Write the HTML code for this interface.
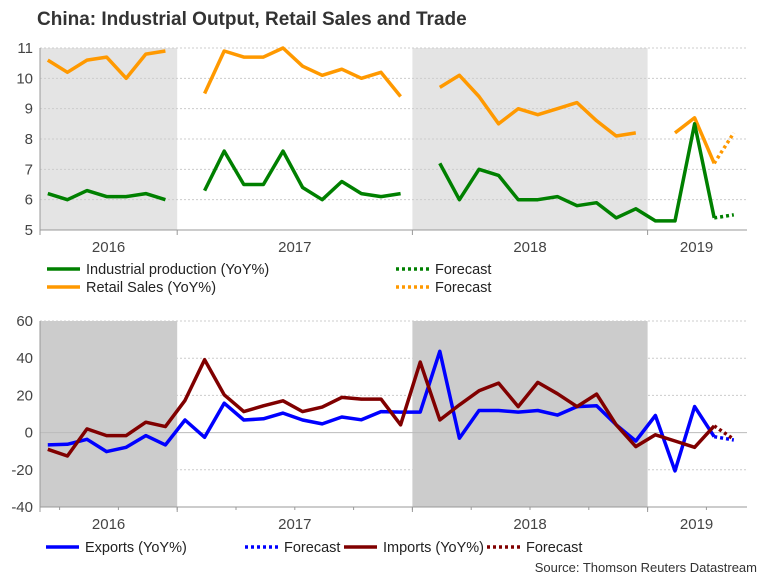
<!DOCTYPE html>
<html><head><meta charset="utf-8"><style>
body{margin:0;background:#fff;width:768px;height:576px;overflow:hidden;font-family:"Liberation Sans",Arial,sans-serif}
svg text{font-family:"Liberation Sans",Arial,sans-serif}
</style></head><body>
<svg id="c" width="768" height="576" xmlns="http://www.w3.org/2000/svg">
<text x="37" y="25" font-size="19" font-weight="bold" fill="#333">China: Industrial Output, Retail Sales and Trade</text>
<text x="757" y="572" font-size="13" fill="#333" text-anchor="end">Source: Thomson Reuters Datastream</text>
</svg>
<script>
// month index 0 = Jun 2016
const years=["2016","2017","2018","2019"];
const yearStart=[0,7,19,31];
const yearEnd=[7,19,31,36];
const shadeYears=[0,2];
const topTicks=[5,6,7,8,9,10,11];
const botTicks=[-40,-20,0,20,40,60];
const ipVals=[6.2,6.0,6.3,6.1,6.1,6.2,6.0,null,6.3,7.6,6.5,6.5,7.6,6.4,6.0,6.6,6.2,6.1,6.2,null,7.2,6.0,7.0,6.8,6.0,6.0,6.1,5.8,5.9,5.4,5.7,5.3,5.3,8.5,5.4,null];
const ipFc=[null,null,null,null,null,null,null,null,null,null,null,null,null,null,null,null,null,null,null,null,null,null,null,null,null,null,null,null,null,null,null,null,null,null,5.4,5.5];
const rsVals=[10.6,10.2,10.6,10.7,10.0,10.8,10.9,null,9.5,10.9,10.7,10.7,11.0,10.4,10.1,10.3,10.0,10.2,9.4,null,9.7,10.1,9.4,8.5,9.0,8.8,9.0,9.2,8.6,8.1,8.2,null,8.2,8.7,7.2,null];
const rsFc=[null,null,null,null,null,null,null,null,null,null,null,null,null,null,null,null,null,null,null,null,null,null,null,null,null,null,null,null,null,null,null,null,null,null,7.2,8.2];
const exVals=[-6.6,-6.3,-3.6,-10.2,-7.9,-1.6,-6.6,6.8,-2.5,15.8,6.8,7.4,10.5,6.8,4.7,8.4,6.9,11.3,11.0,11.0,43.7,-3.0,11.9,11.9,11.0,11.9,9.4,14.0,14.4,4.2,-4.5,9.2,-20.6,14.0,-2.2,null];
const exFc=[null,null,null,null,null,null,null,null,null,null,null,null,null,null,null,null,null,null,null,null,null,null,null,null,null,null,null,null,null,null,null,null,null,null,-2.2,-4.0];
const imVals=[-9.0,-12.6,2.0,-1.6,-1.6,5.6,3.2,17.3,39.2,20.3,11.3,14.4,17.1,11.3,13.7,18.9,18.0,18.0,4.2,37.9,6.8,14.9,22.5,26.6,14.0,27.0,20.9,14.0,20.7,4.2,-7.5,-1.2,-4.5,-7.9,3.6,null];
const imFc=[null,null,null,null,null,null,null,null,null,null,null,null,null,null,null,null,null,null,null,null,null,null,null,null,null,null,null,null,null,null,null,null,null,null,3.6,-3.6];

const svg=document.getElementById('c');const NS='http://www.w3.org/2000/svg';
function mk(t,a,p){const e=document.createElementNS(NS,t);for(const k in a)e.setAttribute(k,a[k]);(p||svg).appendChild(e);return e;}
const X0=40,MW=19.6;
const xEdge=i=>X0+i*MW;
const xPt=i=>X0+(i+0.4)*MW;
function panel(yMin,yMax,top,bot,ticks,shade,zeroLine,pre){
  const y=v=>bot-(v-yMin)/(yMax-yMin)*(bot-top);
  const g=mk('g',{});
  
  
  shadeYears.forEach(k=>{const r=mk('rect',{x:xEdge(yearStart[k]),y:top,width:xEdge(yearEnd[k])-xEdge(yearStart[k]),height:bot-top,fill:shade},g);
    
    });
  ticks.forEach(t=>{
    if(t!==yMin){const l=mk('line',{x1:X0,x2:747,y1:y(t),y2:y(t),stroke:(zeroLine&&t===0)?'#bbb':'#ccc','stroke-width':1,'stroke-dasharray':(zeroLine&&t===0)?'':'2,2'},g);
      
      }
    const tx=mk('text',{x:33,y:y(t)+5,'font-size':15,fill:'#444','text-anchor':'end'},g);tx.textContent=t;
    
    
  });
  mk('line',{x1:X0,x2:X0,y1:top,y2:bot,stroke:'#999'},g);
  const ax=mk('line',{x1:X0,x2:747,y1:bot,y2:bot,stroke:'#999'},g);
  
  
  if(zeroLine){for(let m=0;m<36;m+=3){mk('line',{x1:xEdge(m+1),x2:xEdge(m+1),y1:bot,y2:bot+3,stroke:'#999'},g);}}
  years.forEach((yr,k)=>{
    mk('line',{x1:xEdge(yearStart[k]),x2:xEdge(yearStart[k]),y1:bot,y2:bot+5,stroke:'#999'},g);
    const tx=mk('text',{x:(xEdge(yearStart[k])+xEdge(yearEnd[k]))/2,y:bot+22,'font-size':15,fill:'#444','text-anchor':'middle'},g);tx.textContent=yr;
    
    
  });
  return y;
}
function series(vals,y,color,dash,name){
  let segs=[],cur=[];
  vals.forEach((v,i)=>{if(v===null){if(cur.length)segs.push(cur);cur=[];}else cur.push(xPt(i).toFixed(1)+','+y(v).toFixed(1));});
  if(cur.length)segs.push(cur);
  segs.forEach(s=>{const p=mk('polyline',{points:s.join(' '),fill:'none',stroke:color,'stroke-width':3.5,'stroke-linejoin':'round','stroke-dasharray':dash||''});
    
    });
}
const yT=panel(5,11,48,230,topTicks,'#e4e4e4',false,'top');
series(rsVals,yT,'#ff9900','','retail-sales-line');
series(rsFc,yT,'#ff9900','3,3','retail-sales-forecast');
series(ipVals,yT,'#008000','','industrial-production-line');
series(ipFc,yT,'#008000','3,3','industrial-production-forecast');
const yB=panel(-40,60,321,507,botTicks,'#cccccc',true,'bottom');
series(exVals,yB,'#0000ff','','exports-line');
series(exFc,yB,'#0000ff','3,3','exports-forecast');
series(imVals,yB,'#800000','','imports-line');
series(imFc,yB,'#800000','3,3','imports-forecast');
function leg(x,y,color,dash,label,name){
  const g=mk('g',{});
  
  
  mk('line',{x1:x,x2:x+33,y1:y,y2:y,stroke:color,'stroke-width':3.5,'stroke-dasharray':dash},g);
  const t=mk('text',{x:x+39,y:y+5,'font-size':14.5,fill:'#222'},g);t.textContent=label;
}
leg(47,269,'#008000','','Industrial production (YoY%)','legend-industrial-production');
leg(396,269,'#008000','3,3','Forecast','legend-ip-forecast');
leg(47,287,'#ff9900','','Retail Sales (YoY%)','legend-retail-sales');
leg(396,287,'#ff9900','3,3','Forecast','legend-rs-forecast');
leg(46,547,'#0000ff','','Exports (YoY%)','legend-exports');
leg(245,547,'#0000ff','3,3','Forecast','legend-exports-forecast');
leg(344,547,'#800000','','Imports (YoY%)','legend-imports');
leg(487,547,'#800000','3,3','Forecast','legend-imports-forecast');
</script>
</body></html>
